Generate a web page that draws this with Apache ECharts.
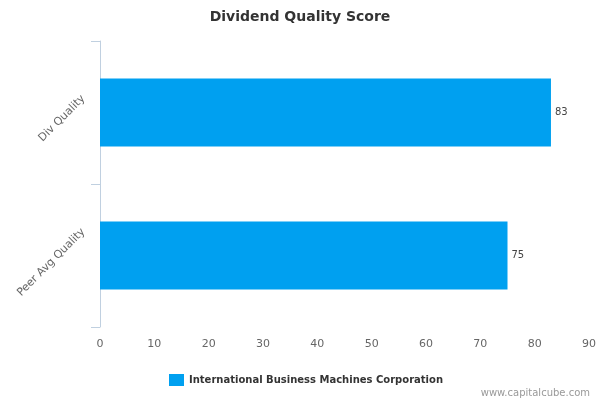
<!DOCTYPE html>
<html><head><meta charset="utf-8">
<script src="https://cdn.jsdelivr.net/npm/echarts@6/dist/echarts.min.js"></script>
<style>html,body{margin:0;padding:0;background:#fff}#c{width:600px;height:400px}</style>
</head><body><div id="c"></div>
<script>
const categories = ['Div Quality', 'Peer Avg Quality'];
const seriesName = 'International Business Machines Corporation';
const values = [83, 75];
const xTicks = [0, 90, 10];

const labelFont = {color: '#666', fontSize: 11, fontFamily: 'DejaVu Sans'};
const chart = echarts.init(document.getElementById('c'), null, {renderer: 'canvas'});
chart.setOption({
  animation: false,
  textStyle: {fontFamily: 'DejaVu Sans'},
  title: {
    text: 'Dividend Quality Score', left: 'center', top: 5,
    textStyle: {fontFamily: 'DejaVu Sans', fontSize: 14, fontWeight: 'bold', color: '#333'}
  },
  graphic: [{
    type: 'text', right: 10, top: 388,
    style: {text: 'www.capitalcube.com', fill: '#999', font: '10px DejaVu Sans'}
  }],
  legend: {
    data: [{name: seriesName, icon: 'rect'}], left: 169, top: 374, padding: 0,
    itemWidth: 15, itemHeight: 12, itemGap: 6,
    textStyle: {fontFamily: 'DejaVu Sans', fontSize: 10, fontWeight: 'bold', color: '#333'}
  },
  grid: {left: 100, right: 11, top: 41, bottom: 73, containLabel: false},
  xAxis: {
    type: 'value', min: xTicks[0], max: xTicks[1], interval: xTicks[2],
    axisLine: {show: false}, axisTick: {show: false}, splitLine: {show: false},
    axisLabel: {color: '#666', fontSize: 11, margin: 12}
  },
  yAxis: {
    type: 'category', data: categories, inverse: true,
    axisLine: {show: true, lineStyle: {color: '#c0d0e0'}},
    axisTick: {show: true, length: 9, lineStyle: {color: '#c0d0e0'}},
    axisLabel: {
      rotate: 45, margin: 1,
      formatter: (v, i) => (i === 0 ? '{a|' : '{b|') + v + '}',
      rich: {
        a: Object.assign({padding: [0, 0, 44, 0]}, labelFont),
        b: Object.assign({padding: [0, -7, 58, 0]}, labelFont)
      }
    }
  },
  series: [{
    name: seriesName, type: 'bar', data: values, barWidth: 68,
    itemStyle: {color: '#00a0f0'},
    label: {show: true, position: 'right', color: '#444', fontSize: 10, distance: 4}
  }]
});
</script></body></html>
